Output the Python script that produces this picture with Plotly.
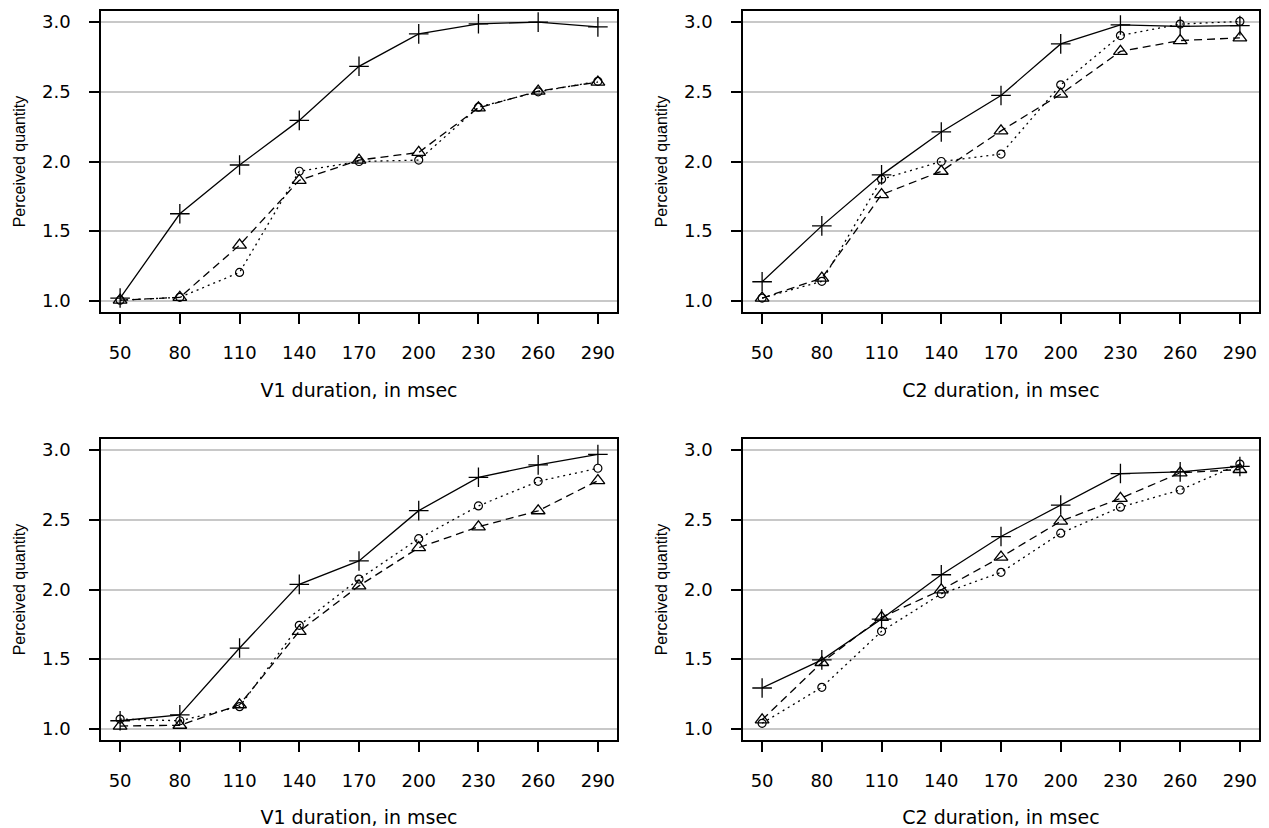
import plotly.graph_objects as go

# ---------------- data ----------------
durations = [50, 80, 110, 140, 170, 200, 230, 260, 290]
x_tick_vals = [50, 80, 110, 140, 170, 200, 230, 260, 290]
y_tick_vals = [1.0, 1.5, 2.0, 2.5, 3.0]
x_titles = ["V1 duration, in msec", "C2 duration, in msec",
            "V1 duration, in msec", "C2 duration, in msec"]
y_title = "Perceived quantity"

# panel 1 (top-left)
p1_plus = [1.02, 1.625, 1.975, 2.295, 2.683, 2.916, 2.988, 3.0, 2.966]
p1_circle = [1.005, 1.025, 1.204, 1.93, 2.0, 2.01, 2.39, 2.50, 2.575]
p1_triangle = [1.005, 1.025, 1.40, 1.865, 2.01, 2.065, 2.385, 2.505, 2.57]

# panel 2 (top-right)
p2_plus = [1.137, 1.538, 1.904, 2.212, 2.474, 2.844, 2.98, 2.97, 2.975]
p2_circle = [1.02, 1.14, 1.873, 2.0, 2.053, 2.55, 2.904, 2.986, 3.005]
p2_triangle = [1.02, 1.163, 1.762, 1.93, 2.22, 2.483, 2.79, 2.868, 2.887]

# panel 3 (bottom-left)
p3_plus = [1.058, 1.10, 1.58, 2.037, 2.205, 2.566, 2.805, 2.894, 2.969]
p3_circle = [1.07, 1.058, 1.159, 1.743, 2.075, 2.365, 2.60, 2.776, 2.87]
p3_triangle = [1.02, 1.026, 1.173, 1.70, 2.026, 2.30, 2.45, 2.565, 2.781]

# panel 4 (bottom-right)
p4_plus = [1.293, 1.495, 1.788, 2.106, 2.38, 2.606, 2.832, 2.844, 2.883]
p4_circle = [1.04, 1.298, 1.70, 1.969, 2.123, 2.404, 2.591, 2.714, 2.90]
p4_triangle = [1.065, 1.476, 1.80, 1.997, 2.233, 2.49, 2.654, 2.837, 2.861]

panels = [
    (p1_plus, p1_circle, p1_triangle),
    (p2_plus, p2_circle, p2_triangle),
    (p3_plus, p3_circle, p3_triangle),
    (p4_plus, p4_circle, p4_triangle),
]

# ---------------- layout geometry ----------------
W, H = 1269, 828
x_doms = [(101, 617), (743, 1259)]
y_doms = [(11, 312), (439, 740)]


def xd(a, b):
    return [a / W, b / W]


def yd(top, bottom):
    return [1 - bottom / H, 1 - top / H]


fig = go.Figure()
layout = dict(
    width=W, height=H,
    margin=dict(l=0, r=0, t=0, b=0),
    paper_bgcolor="white", plot_bgcolor="white",
    showlegend=False,
)

tick_font = dict(family="DejaVu Sans", size=18, color="black")
xtitle_font = dict(family="DejaVu Sans", size=19, color="black")

for i, (plus, circ, tri) in enumerate(panels):
    row, col = divmod(i, 2)
    n = i + 1
    xa = "x" if n == 1 else f"x{n}"
    ya = "y" if n == 1 else f"y{n}"
    xkey = "xaxis" if n == 1 else f"xaxis{n}"
    ykey = "yaxis" if n == 1 else f"yaxis{n}"

    fig.add_trace(go.Scatter(
        x=durations, y=plus, xaxis=xa, yaxis=ya, mode="lines+markers",
        line=dict(color="black", width=1.3),
        marker=dict(symbol="cross-thin-open", size=14, color="black",
                    line=dict(color="black", width=1.3)),
        name="plus"))
    fig.add_trace(go.Scatter(
        x=durations, y=circ, xaxis=xa, yaxis=ya, mode="lines+markers",
        line=dict(color="black", width=1.3, dash="2px,4px"),
        marker=dict(symbol="circle-open", size=8, color="black",
                    line=dict(color="black", width=1.2)),
        name="circle"))
    fig.add_trace(go.Scatter(
        x=durations, y=tri, xaxis=xa, yaxis=ya, mode="lines+markers",
        line=dict(color="black", width=1.3, dash="8px,5px"),
        marker=dict(symbol="triangle-up-open", size=12, color="black",
                    line=dict(color="black", width=1.3)),
        name="triangle"))

    layout[xkey] = dict(
        domain=xd(*x_doms[col]), anchor=ya,
        range=[40.4, 299.6], tickmode="array", tickvals=x_tick_vals,
        ticktext=[str(v) for v in x_tick_vals],
        showgrid=False, zeroline=False,
        showline=True, mirror=True, linecolor="black", linewidth=1.5,
        ticks="outside", ticklen=10, tickwidth=1.5, tickcolor="black",
        ticklabelstandoff=14,
        tickfont=tick_font,
        title=dict(text=x_titles[i], font=xtitle_font, standoff=21),
    )
    layout[ykey] = dict(
        domain=yd(*y_doms[row]), anchor=xa,
        range=[0.92, 3.08], tickmode="array", tickvals=y_tick_vals,
        tickformat=".1f",
        showgrid=True, gridcolor="#c8c8c8", gridwidth=1.5, zeroline=False,
        showline=True, mirror=True, linecolor="black", linewidth=1.5,
        ticks="outside", ticklen=10, tickwidth=1.5, tickcolor="black",
        ticklabelstandoff=15,
        tickfont=tick_font,
        title=dict(text=y_title,
                   font=dict(family="Liberation Sans", size=16, color="black"),
                   standoff=12),
    )

fig.update_layout(**layout)
fig.write_html("out.html")
